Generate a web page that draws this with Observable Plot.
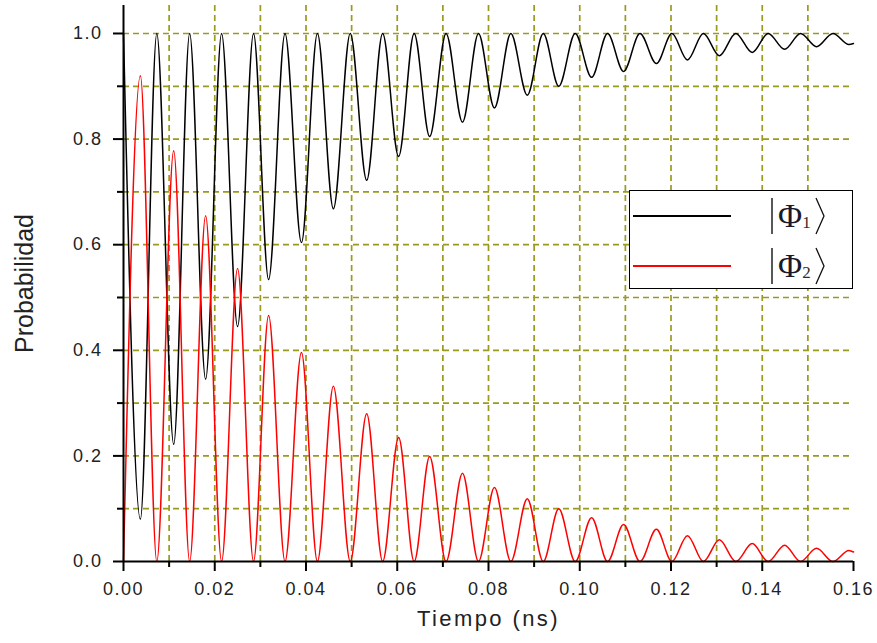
<!DOCTYPE html>
<html>
<head>
<meta charset="utf-8">
<script src="https://cdn.jsdelivr.net/npm/d3@7"></script>
<script src="https://cdn.jsdelivr.net/npm/@observablehq/plot@0.6"></script>
<style>
  body { margin: 0; background: #fff; }
  #wrap { position: relative; width: 877px; height: 643px; }
  #legend {
    position: absolute; left: 629px; top: 190px; width: 222px; height: 97px;
    border: 1.6px solid #000; background: #fff; box-sizing: content-box;
  }
  .lline { position: absolute; left: 3px; width: 98px; height: 1.5px; }
  .ket { position: absolute; left: 140px; height: 38px; display: flex; align-items: center;
         font-family: "Liberation Serif", "DejaVu Serif", serif; color: #1a1a2a; }
  .ket .phi { font-size: 33px; margin-left: 4px; line-height: 1; }
  .ket .sub { font-size: 17px; align-self: flex-end; margin-bottom: 2px; color: #3a2a1a; }
</style>
</head>
<body>
<div id="wrap"></div>
<script>
// Extremum times (ns): alternating troughs / peaks of |Φ2⟩
const tiempo = [0, 0.0037, 0.0073, 0.011, 0.0145, 0.018, 0.0215, 0.025, 0.0285, 0.0318,
  0.0354, 0.039, 0.0425, 0.046, 0.0497, 0.0533, 0.0568, 0.0603, 0.0637, 0.0671,
  0.0707, 0.0743, 0.0778, 0.0813, 0.0849, 0.0885, 0.092, 0.0954, 0.099, 0.1026,
  0.1061, 0.1096, 0.1132, 0.1168, 0.1202, 0.1236, 0.1271, 0.1306, 0.1342, 0.1378,
  0.1413, 0.1449, 0.1484, 0.1519, 0.1555, 0.159, 0.16];
// |Φ1⟩ probability (black)
const phi1 = [1.0, 0.08, 1.0, 0.222, 1.0, 0.345, 1.0, 0.445, 1.0, 0.534,
  1.0, 0.604, 1.0, 0.668, 1.0, 0.722, 1.0, 0.767, 1.0, 0.805,
  1.0, 0.832, 1.0, 0.859, 1.0, 0.883, 1.0, 0.900, 1.0, 0.917,
  1.0, 0.928, 1.0, 0.943, 1.0, 0.950, 1.0, 0.958, 1.0, 0.964,
  1.0, 0.970, 1.0, 0.975, 1.0, 0.979, 0.981];
// |Φ2⟩ probability (red)
const phi2 = [0, 0.92, 0, 0.778, 0, 0.655, 0, 0.555, 0, 0.466,
  0, 0.396, 0, 0.332, 0, 0.280, 0, 0.235, 0, 0.199,
  0, 0.167, 0, 0.140, 0, 0.119, 0, 0.100, 0, 0.083,
  0, 0.070, 0, 0.061, 0, 0.049, 0, 0.041, 0, 0.034,
  0, 0.031, 0, 0.025, 0, 0.021, 0.018];

const xMajor = [0, 0.02, 0.04, 0.06, 0.08, 0.10, 0.12, 0.14, 0.16];
const xMinor = [0.01, 0.03, 0.05, 0.07, 0.09, 0.11, 0.13, 0.15];
const yMajor = [0, 0.2, 0.4, 0.6, 0.8, 1.0];
const yMinor = [0.1, 0.3, 0.5, 0.7, 0.9];
const xGrid = [0.01, 0.02, 0.03, 0.04, 0.05, 0.06, 0.07, 0.08, 0.09, 0.10, 0.11, 0.12, 0.13, 0.14, 0.15];
const yGrid = [0.1, 0.2, 0.3, 0.4, 0.5, 0.6, 0.7, 0.8, 0.9, 1.0];
const xTitle = "Tiempo (ns)";
const yTitle = "Probabilidad";

const data = tiempo.map((t, i) => ({t, p1: phi1[i], p2: phi2[i]}));

const gridStyle = {stroke: "#9a9a1e", strokeWidth: 1.7, strokeDasharray: "6,4"};
const tickFont = {fontSize: 18, fill: "#222"};

const chart = Plot.plot({
  width: 877,
  height: 643,
  marginLeft: 123,
  marginRight: 24,
  marginTop: 5,
  marginBottom: 82,
  style: {fontFamily: "'Liberation Sans', Arial, sans-serif", background: "#fff", overflow: "visible"},
  x: {domain: [0, 0.16]},
  y: {domain: [0, 1.053]},
  marks: [
    Plot.ruleX(xGrid, gridStyle),
    Plot.ruleY(yGrid, gridStyle),
    Plot.line(data, {x: "t", y: "p1", stroke: "#000", strokeWidth: 1.5, curve: "monotone-x"}),
    Plot.line(data, {x: "t", y: "p2", stroke: "#ff0000", strokeWidth: 1.5, curve: "monotone-x"}),
    Plot.ruleX([0], {stroke: "#000", strokeWidth: 2}),
    Plot.ruleY([0], {stroke: "#000", strokeWidth: 2}),
    Plot.axisX(xMajor, {tickSize: 10, tickPadding: 11, strokeWidth: 2, tickFormat: d3.format(".2f"), label: null, ...tickFont}),
    Plot.axisX(xMinor, {tickSize: 6, strokeWidth: 2, tickFormat: () => "", label: null}),
    Plot.axisY(yMajor, {tickSize: 10, tickPadding: 11, strokeWidth: 2, tickFormat: d3.format(".1f"), label: null, ...tickFont}),
    Plot.axisY(yMinor, {tickSize: 6, strokeWidth: 2, tickFormat: () => "", label: null}),
    Plot.text([xTitle], {text: d => d, frameAnchor: "bottom", textAnchor: "middle", dy: 64, fontSize: 22, fill: "#222", className: "xtitle"}),
    Plot.text([yTitle], {text: d => d, frameAnchor: "left", textAnchor: "middle", dx: -99, rotate: -90, fontSize: 25, fill: "#222", className: "ytitle"})
  ]
});

const wrap = document.getElementById("wrap");
wrap.appendChild(chart);
// the reference text is widely spaced
d3.select(chart).selectAll("g[aria-label$='tick label'] text").style("letter-spacing", "1.5px");
d3.select(chart).selectAll(".xtitle text").style("letter-spacing", "2.4px");

// Legend
const legendItems = [
  {color: "#000", sub: "1"},
  {color: "#ff0000", sub: "2"}
];
const legend = document.createElement("div");
legend.id = "legend";
legendItems.forEach((it, i) => {
  const cy = 25 + i * 50;
  const ln = document.createElement("div");
  ln.className = "lline";
  ln.style.top = (cy - 1) + "px";
  ln.style.background = it.color;
  legend.appendChild(ln);
  const ket = document.createElement("div");
  ket.className = "ket";
  ket.style.top = (cy - 19) + "px";
  ket.innerHTML =
    '<svg width="4" height="38"><line x1="2" y1="1" x2="2" y2="37" stroke="#111" stroke-width="1.4"/></svg>' +
    '<span class="phi">Φ</span><span class="sub">' + it.sub + '</span>' +
    '<svg width="12" height="38" style="margin-left:3px"><polyline points="2,1 10,19 2,37" fill="none" stroke="#111" stroke-width="1.3"/></svg>';
  legend.appendChild(ket);
});
wrap.appendChild(legend);
</script>
</body>
</html>
